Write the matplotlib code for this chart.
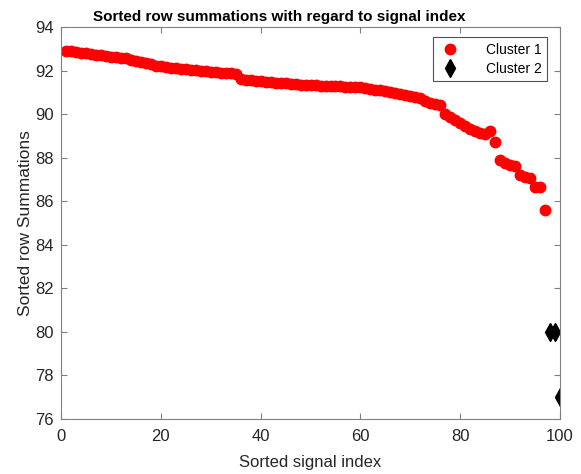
import matplotlib
matplotlib.use("Agg")
import matplotlib.pyplot as plt
import numpy as np

plt.rcParams['font.family'] = ['Liberation Sans', 'DejaVu Sans']

cluster1_y = [92.92, 92.88, 92.85, 92.82, 92.79, 92.76, 92.73, 92.70, 92.66, 92.63,
              92.61, 92.59, 92.56, 92.50, 92.44, 92.38, 92.33, 92.28, 92.22, 92.19,
              92.16, 92.13, 92.10, 92.08, 92.05, 92.03, 92.01, 91.99, 91.97, 91.95,
              91.93, 91.91, 91.89, 91.87, 91.84, 91.62, 91.58, 91.55, 91.53, 91.51,
              91.49, 91.47, 91.45, 91.43, 91.41, 91.39, 91.37, 91.36, 91.35, 91.33,
              91.32, 91.31, 91.30, 91.29, 91.28, 91.27, 91.26, 91.25, 91.24, 91.23,
              91.20, 91.15, 91.12, 91.09, 91.05, 91.02, 90.97, 90.93, 90.89, 90.85,
              90.80, 90.74, 90.62, 90.53, 90.46, 90.42, 90.00, 89.88, 89.72, 89.58,
              89.45, 89.30, 89.24, 89.12, 89.10, 89.22, 88.70, 87.90, 87.77, 87.66,
              87.60, 87.20, 87.10, 87.05, 86.67, 86.64, 85.60]
cluster1_x = list(range(1, len(cluster1_y) + 1))
cluster2_x = [98, 99, 100]
cluster2_y = [80.0, 80.0, 77.0]

title = "Sorted row summations with regard to signal index"
xlabel = "Sorted signal index"
ylabel = "Sorted row Summations"
xticks = [0, 20, 40, 60, 80, 100]
yticks = [76, 78, 80, 82, 84, 86, 88, 90, 92, 94]

fig = plt.figure(figsize=(5.81, 4.74), dpi=100)
ax = fig.add_axes([0.105, 0.116, 0.859, 0.827])

ax.plot(cluster1_x, cluster1_y, linestyle='none', marker='o', color='red',
        markersize=7.5, label='Cluster 1')
ax.plot(cluster2_x, cluster2_y, linestyle='none', marker='d', color='black',
        markersize=9, label='Cluster 2')

ax.set_xlim(0, 100)
ax.set_ylim(76, 94)
ax.set_xticks(xticks)
ax.set_yticks(yticks)

spine_color = '#808080'
for s in ax.spines.values():
    s.set_color(spine_color)
    s.set_linewidth(0.8)
ax.tick_params(direction='in', top=True, right=True, length=4, color=spine_color,
               labelsize=12, labelcolor='#262626', width=0.8, pad=5)
ax.tick_params(axis='x', pad=7)

ax.set_title(title, fontsize=11, fontweight='bold', color='black', pad=4, x=0.437)
ax.set_xlabel(xlabel, fontsize=12, color='#262626', labelpad=8)
ax.set_ylabel(ylabel, fontsize=12.5, color='#262626', labelpad=2)

leg = ax.legend(loc='upper right', bbox_to_anchor=(0.974, 0.974), borderaxespad=0,
                fontsize=10, frameon=True, fancybox=False,
                edgecolor='#262626', borderpad=0.4, labelspacing=0.35,
                handletextpad=1.8, handlelength=1.6)
leg.get_frame().set_linewidth(0.8)

fig.savefig('out.png', dpi=100)
